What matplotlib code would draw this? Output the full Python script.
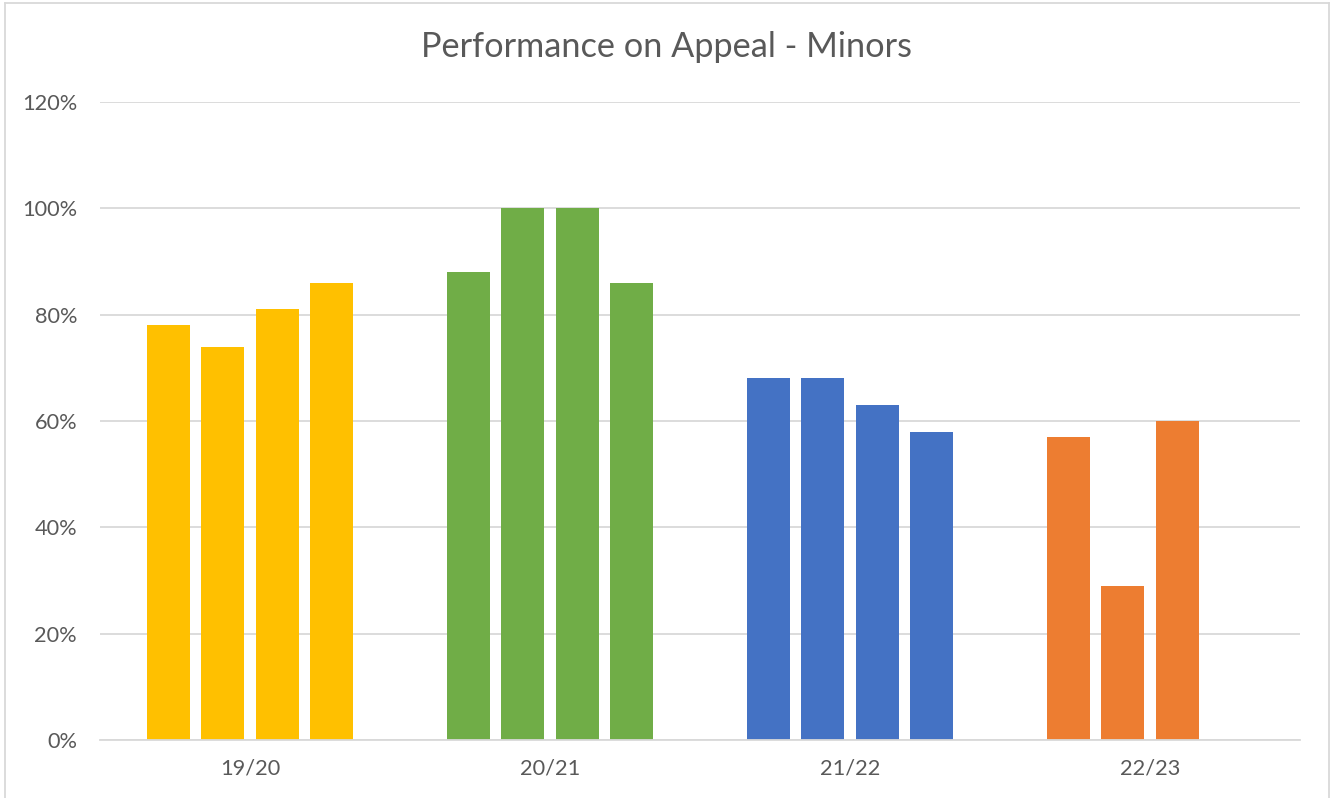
import numpy as np
import matplotlib
matplotlib.use("Agg")
import matplotlib.pyplot as plt
from matplotlib.lines import Line2D
from matplotlib.ticker import FuncFormatter

categories = ["19/20", "20/21", "21/22", "22/23"]
series_1 = [78, 88, 68, 57]
series_2 = [74, 100, 68, 29]
series_3 = [81, 100, 63, 60]
series_4 = [86, 86, 58, np.nan]
group_colors = ["#FFC000", "#70AD47", "#4472C4", "#ED7D31"]
yticks = [0, 20, 40, 60, 80, 100, 120]

plt.rcParams['font.family'] = ['Lato', 'DejaVu Sans']

W, H = 1332, 798
fig = plt.figure(figsize=(W / 100, H / 100), dpi=100)
ax = fig.add_axes([100 / W, (H - 740) / H, 1200 / W, (740 - 102) / H])

x = np.arange(len(categories))
all_series = [series_1, series_2, series_3, series_4]
n = len(all_series)
step = 0.181
width = 0.1433
for i, s in enumerate(all_series):
    vals = np.array(s, dtype=float) / 100.0
    ax.bar(x + (i - (n - 1) / 2) * step, vals, width=width, color=group_colors, zorder=3)

ax.set_xlim(-0.5, len(categories) - 0.5)
ax.set_ylim(0, 1.2)
ax.set_yticks([v / 100 for v in yticks])
ax.yaxis.set_major_formatter(FuncFormatter(lambda v, p: f"{v*100:.0f}%"))
ax.set_xticks(x)
ax.set_xticklabels(categories)
ax.grid(axis='y', color='#D9D9D9', linewidth=1.3, zorder=0)
for sp in ['top', 'right', 'left']:
    ax.spines[sp].set_visible(False)
ax.spines['bottom'].set_color('#D9D9D9')
ax.spines['bottom'].set_linewidth(1.3)
ax.spines['bottom'].set_zorder(4)
ax.tick_params(axis='both', length=0, labelsize=15.7, colors='#595959')
ax.tick_params(axis='y', pad=16.5)
ax.tick_params(axis='x', pad=13)

fig.text(667 / W, 1 - 47 / H, "Performance on Appeal - Minors", ha='center', va='center',
         fontsize=24.7, color='#595959')

# outer chart border
bc = '#D9D9D9'
fig.add_artist(Line2D([5 / W, 5 / W], [0, 1 - 3 / H], transform=fig.transFigure, color=bc, lw=1.3))
fig.add_artist(Line2D([5 / W, 1329 / W], [1 - 3 / H, 1 - 3 / H], transform=fig.transFigure, color=bc, lw=1.3))
fig.add_artist(Line2D([1329 / W, 1329 / W], [0, 1 - 3 / H], transform=fig.transFigure, color=bc, lw=1.3))

fig.savefig("out.png", dpi=100)
